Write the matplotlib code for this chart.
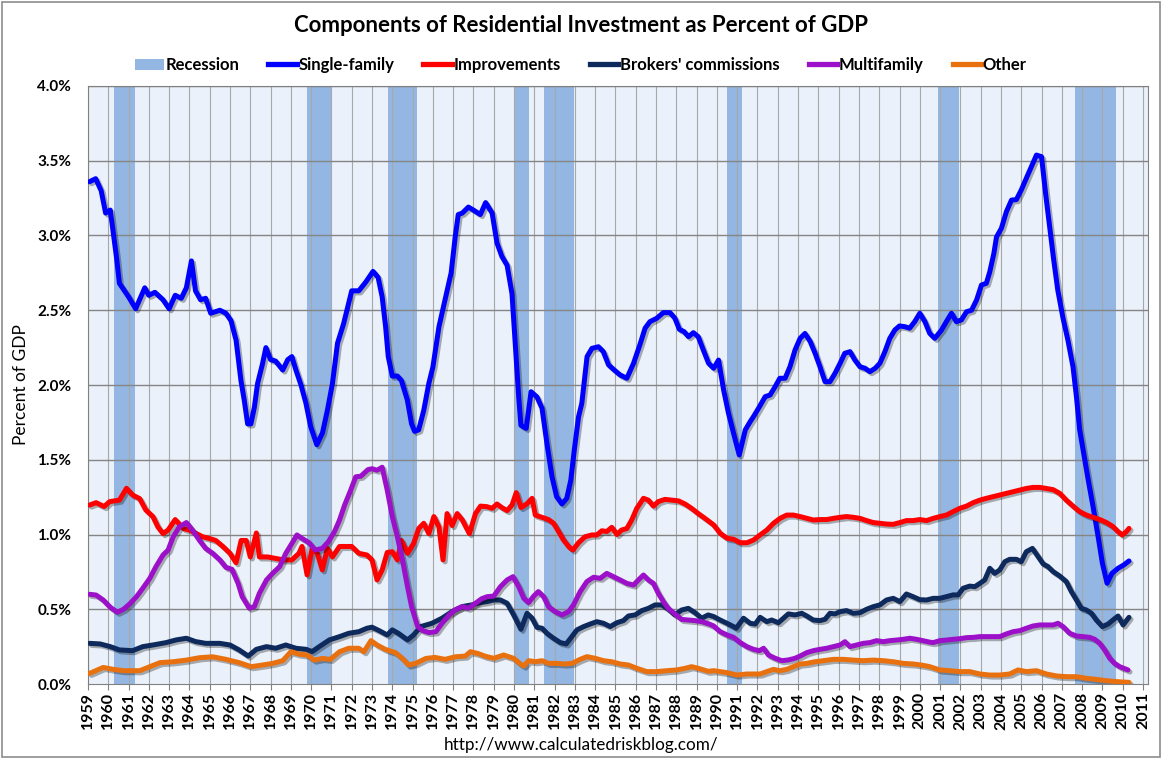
import numpy as np
import matplotlib
matplotlib.use("Agg")
import matplotlib.pyplot as plt
import matplotlib.patheffects as pe
from matplotlib.lines import Line2D
from matplotlib.patches import Patch, Rectangle

plt.rcParams['font.family'] = ['Lato', 'DejaVu Sans']

# recessions (start, end) in fractional years
rec_start = [1960.3, 1969.8, 1973.8, 1980.0, 1981.5, 1990.48, 2000.92, 2007.67]
rec_end = [1961.3, 1971.05, 1975.2, 1980.72, 1982.97, 1991.22, 2001.94, 2009.65]

# Single-family
sf_t = [1959.08, 1959.38, 1959.65, 1959.87, 1960.10, 1960.40, 1960.55, 1961.00, 1961.35, 1961.80,
        1962.00, 1962.30, 1962.70, 1963.00, 1963.30, 1963.60, 1963.85, 1964.10, 1964.30, 1964.55,
        1964.80, 1965.05, 1965.50, 1965.80, 1966.05, 1966.30, 1966.54, 1966.70, 1966.87, 1967.03,
        1967.20, 1967.36, 1967.60, 1967.77, 1968.00, 1968.25, 1968.60, 1968.85, 1969.05, 1969.25,
        1969.50, 1969.74, 1969.98, 1970.28, 1970.56, 1970.80, 1971.05, 1971.30, 1971.60, 1972.00,
        1972.35, 1972.70, 1973.05, 1973.30, 1973.50, 1973.67, 1973.80, 1974.00, 1974.25, 1974.45,
        1974.74, 1974.95, 1975.10, 1975.30, 1975.55, 1975.80, 1976.00, 1976.30, 1976.60, 1976.90,
        1977.10, 1977.25, 1977.45, 1977.75, 1978.00, 1978.34, 1978.60, 1978.92, 1979.16, 1979.40,
        1979.66, 1979.90, 1980.07, 1980.23, 1980.34, 1980.60, 1980.84, 1981.13, 1981.38, 1981.62,
        1981.87, 1982.10, 1982.36, 1982.60, 1982.80, 1982.97, 1983.18, 1983.34, 1983.60, 1983.84,
        1984.16, 1984.40, 1984.66, 1984.90, 1985.23, 1985.56, 1985.89, 1986.20, 1986.46, 1986.70,
        1987.03, 1987.36, 1987.69, 1987.93, 1988.15, 1988.38, 1988.60, 1988.84, 1989.08, 1989.33,
        1989.59, 1989.84, 1990.08, 1990.33, 1990.57, 1990.82, 1991.10, 1991.40, 1991.64, 1991.80,
        1992.05, 1992.38, 1992.62, 1992.87, 1993.10, 1993.36, 1993.60, 1993.85, 1994.10, 1994.34,
        1994.60, 1994.84, 1995.08, 1995.33, 1995.57, 1995.82, 1996.07, 1996.30, 1996.56, 1996.80,
        1997.05, 1997.30, 1997.54, 1997.80, 1998.03, 1998.28, 1998.52, 1998.77, 1999.00, 1999.26,
        1999.50, 1999.75, 2000.00, 2000.25, 2000.49, 2000.74, 2001.07, 2001.31, 2001.56, 2001.80,
        2002.05, 2002.30, 2002.55, 2002.80, 2003.04, 2003.28, 2003.45, 2003.65, 2003.78, 2004.02,
        2004.27, 2004.52, 2004.76, 2005.00, 2005.25, 2005.50, 2005.75, 2006.00, 2006.20, 2006.40,
        2006.60, 2006.80, 2007.06, 2007.30, 2007.55, 2007.72, 2007.88, 2008.05, 2008.30, 2008.54,
        2008.79, 2009.00, 2009.23, 2009.47, 2009.77, 2010.05, 2010.31]
sf_v = [3.36, 3.38, 3.30, 3.15, 3.17, 2.86, 2.68, 2.59, 2.51, 2.65,
        2.60, 2.62, 2.57, 2.51, 2.60, 2.58, 2.65, 2.83, 2.63, 2.57,
        2.58, 2.48, 2.50, 2.48, 2.43, 2.30, 2.03, 1.90, 1.74, 1.74,
        1.85, 2.01, 2.14, 2.25, 2.17, 2.16, 2.10, 2.17, 2.19, 2.10,
        2.00, 1.88, 1.72, 1.60, 1.68, 1.83, 2.01, 2.28, 2.41, 2.63,
        2.63, 2.69, 2.76, 2.72, 2.59, 2.39, 2.19, 2.06, 2.06, 2.03,
        1.90, 1.74, 1.69, 1.70, 1.83, 2.01, 2.12, 2.39, 2.57, 2.75,
        2.99, 3.14, 3.15, 3.19, 3.17, 3.14, 3.22, 3.15, 2.95, 2.86,
        2.80, 2.61, 2.26, 1.92, 1.73, 1.71, 1.955, 1.92, 1.844, 1.61,
        1.387, 1.253, 1.204, 1.242, 1.365, 1.565, 1.788, 1.877, 2.19, 2.245,
        2.256, 2.223, 2.134, 2.105, 2.067, 2.045, 2.145, 2.268, 2.38, 2.424,
        2.446, 2.484, 2.484, 2.446, 2.372, 2.357, 2.323, 2.35, 2.323, 2.234,
        2.145, 2.112, 2.167, 1.967, 1.811, 1.677, 1.532, 1.70, 1.755, 1.788,
        1.844, 1.922, 1.933, 1.989, 2.045, 2.045, 2.122, 2.234, 2.312, 2.345,
        2.29, 2.212, 2.122, 2.022, 2.022, 2.078, 2.145, 2.212, 2.223, 2.167,
        2.122, 2.112, 2.089, 2.112, 2.145, 2.223, 2.312, 2.368, 2.395, 2.39,
        2.38, 2.424, 2.48, 2.424, 2.345, 2.312, 2.368, 2.424, 2.48, 2.424,
        2.435, 2.49, 2.50, 2.569, 2.669, 2.68, 2.758, 2.88, 2.99, 3.048,
        3.16, 3.237, 3.24, 3.304, 3.383, 3.46, 3.538, 3.527, 3.28, 3.06,
        2.836, 2.635, 2.446, 2.30, 2.122, 1.922, 1.70, 1.565, 1.365, 1.186,
        0.985, 0.807, 0.674, 0.74, 0.774, 0.796, 0.823]

# Improvements
imp_t = [1959.08, 1959.40, 1959.80, 1960.07, 1960.55, 1960.90, 1961.20, 1961.55, 1961.85, 1962.20,
         1962.45, 1962.70, 1962.95, 1963.30, 1963.70, 1964.00, 1964.35, 1964.65, 1965.00, 1965.30,
         1965.65, 1966.00, 1966.30, 1966.55, 1966.80, 1967.00, 1967.30, 1967.45, 1967.85, 1968.25,
         1968.65, 1969.05, 1969.40, 1969.55, 1969.80, 1970.05, 1970.30, 1970.55, 1970.80, 1971.05,
         1971.40, 1971.70, 1972.00, 1972.35, 1972.75, 1973.00, 1973.25, 1973.50, 1973.75, 1974.00,
         1974.25, 1974.45, 1974.75, 1975.05, 1975.30, 1975.55, 1975.80, 1976.05, 1976.30, 1976.50,
         1976.70, 1976.95, 1977.20, 1977.45, 1977.80, 1978.10, 1978.35, 1978.67, 1978.92, 1979.16,
         1979.40, 1979.66, 1979.90, 1980.11, 1980.34, 1980.64, 1980.89, 1981.05, 1981.38, 1981.70,
         1981.95, 1982.20, 1982.44, 1982.70, 1982.90, 1983.18, 1983.50, 1983.84, 1984.08, 1984.33,
         1984.57, 1984.82, 1985.07, 1985.30, 1985.56, 1985.80, 1986.05, 1986.38, 1986.62, 1986.87,
         1987.11, 1987.44, 1987.77, 1988.10, 1988.43, 1988.75, 1989.08, 1989.41, 1989.84, 1990.16,
         1990.50, 1990.82, 1991.15, 1991.48, 1991.80, 1992.13, 1992.46, 1992.79, 1993.11, 1993.44,
         1993.77, 1994.10, 1994.43, 1994.75, 1995.08, 1995.41, 1995.74, 1996.07, 1996.39, 1996.72,
         1997.05, 1997.38, 1997.70, 1998.03, 1998.36, 1998.69, 1999.02, 1999.34, 1999.67, 2000.00,
         2000.33, 2000.66, 2000.99, 2001.31, 2001.64, 2001.97, 2002.30, 2002.63, 2002.96, 2003.28,
         2003.61, 2003.94, 2004.27, 2004.60, 2004.93, 2005.25, 2005.58, 2005.91, 2006.24, 2006.57,
         2006.90, 2007.22, 2007.55, 2007.88, 2008.21, 2008.54, 2008.87, 2009.20, 2009.52, 2009.77,
         2009.98, 2010.18, 2010.31]
imp_v = [1.197, 1.213, 1.187, 1.22, 1.23, 1.309, 1.264, 1.24, 1.164, 1.12,
         1.05, 1.006, 1.03, 1.10, 1.04, 1.03, 1.006, 0.985, 0.973, 0.96,
         0.92, 0.874, 0.811, 0.96, 0.96, 0.85, 1.01, 0.85, 0.85, 0.84,
         0.83, 0.83, 0.874, 0.92, 0.73, 0.907, 0.874, 0.763, 0.907, 0.85,
         0.92, 0.92, 0.92, 0.874, 0.863, 0.83, 0.696, 0.763, 0.88, 0.885,
         0.83, 0.96, 0.874, 0.94, 1.04, 1.075, 1.006, 1.12, 1.05, 0.83,
         1.14, 1.06, 1.14, 1.097, 1.006, 1.14, 1.19, 1.186, 1.175, 1.204,
         1.18, 1.16, 1.197, 1.28, 1.18, 1.206, 1.242, 1.13, 1.115, 1.10,
         1.075, 1.019, 0.963, 0.918, 0.896, 0.945, 0.985, 0.997, 0.997, 1.025,
         1.02, 1.048, 1.0, 1.03, 1.04, 1.097, 1.175, 1.242, 1.23, 1.19,
         1.22, 1.235, 1.23, 1.225, 1.204, 1.175, 1.14, 1.108, 1.064, 1.008,
         0.975, 0.968, 0.945, 0.945, 0.963, 0.997, 1.03, 1.075, 1.108, 1.13,
         1.13, 1.12, 1.108, 1.097, 1.10, 1.10, 1.108, 1.115, 1.12, 1.115,
         1.108, 1.093, 1.08, 1.075, 1.07, 1.068, 1.08, 1.093, 1.093, 1.10,
         1.093, 1.108, 1.12, 1.13, 1.153, 1.175, 1.19, 1.213, 1.23, 1.242,
         1.253, 1.264, 1.275, 1.286, 1.297, 1.308, 1.315, 1.315, 1.308, 1.30,
         1.275, 1.23, 1.19, 1.153, 1.13, 1.115, 1.10, 1.08, 1.053, 1.019,
         0.997, 1.019, 1.041]

# Brokers' commissions
br_t = [1959.08, 1959.60, 1960.10, 1960.55, 1961.20, 1961.70, 1962.20, 1962.85, 1963.35, 1963.85,
        1964.30, 1964.80, 1965.50, 1966.00, 1966.45, 1966.90, 1967.30, 1967.80, 1968.25, 1968.75,
        1969.25, 1969.75, 1970.05, 1970.40, 1970.90, 1971.40, 1971.85, 1972.35, 1972.75, 1973.00,
        1973.35, 1973.75, 1974.00, 1974.30, 1974.75, 1975.05, 1975.40, 1975.95, 1976.45, 1976.95,
        1977.45, 1977.95, 1978.34, 1978.67, 1979.00, 1979.33, 1979.66, 1979.98, 1980.34, 1980.64,
        1980.89, 1981.13, 1981.38, 1981.62, 1981.95, 1982.28, 1982.57, 1982.85, 1983.10, 1983.43,
        1983.75, 1984.08, 1984.41, 1984.74, 1985.07, 1985.39, 1985.64, 1985.97, 1986.30, 1986.62,
        1986.95, 1987.28, 1987.61, 1987.93, 1988.26, 1988.59, 1988.92, 1989.25, 1989.57, 1989.84,
        1990.16, 1990.50, 1990.82, 1990.95, 1991.31, 1991.64, 1991.89, 1992.13, 1992.46, 1992.70,
        1993.03, 1993.28, 1993.52, 1993.85, 1994.18, 1994.43, 1994.75, 1995.08, 1995.33, 1995.57,
        1995.82, 1996.07, 1996.39, 1996.72, 1997.05, 1997.38, 1997.70, 1998.03, 1998.36, 1998.69,
        1999.02, 1999.34, 1999.67, 2000.00, 2000.33, 2000.66, 2000.99, 2001.31, 2001.64, 2001.89,
        2002.13, 2002.46, 2002.71, 2002.96, 2003.20, 2003.45, 2003.69, 2003.94, 2004.19, 2004.43,
        2004.76, 2005.00, 2005.25, 2005.55, 2005.83, 2006.08, 2006.32, 2006.57, 2006.90, 2007.22,
        2007.47, 2007.72, 2007.96, 2008.21, 2008.46, 2008.70, 2009.00, 2009.28, 2009.52, 2009.77,
        2010.02, 2010.31]
br_v = [0.272, 0.268, 0.25, 0.228, 0.223, 0.25, 0.261, 0.277, 0.295, 0.306,
        0.284, 0.272, 0.272, 0.261, 0.228, 0.187, 0.232, 0.25, 0.239, 0.261,
        0.239, 0.232, 0.217, 0.25, 0.295, 0.317, 0.339, 0.35, 0.373, 0.38,
        0.357, 0.328, 0.362, 0.339, 0.295, 0.328, 0.384, 0.406, 0.44, 0.485,
        0.518, 0.53, 0.545, 0.551, 0.562, 0.562, 0.54, 0.462, 0.366, 0.473,
        0.44, 0.379, 0.373, 0.339, 0.306, 0.277, 0.268, 0.317, 0.362, 0.384,
        0.401, 0.417, 0.406, 0.384, 0.41, 0.424, 0.455, 0.462, 0.491, 0.506,
        0.529, 0.529, 0.50, 0.462, 0.495, 0.506, 0.477, 0.44, 0.462, 0.451,
        0.428, 0.406, 0.384, 0.373, 0.44, 0.406, 0.401, 0.446, 0.417, 0.428,
        0.41, 0.44, 0.469, 0.462, 0.473, 0.455, 0.428, 0.424, 0.433, 0.473,
        0.469, 0.484, 0.491, 0.473, 0.477, 0.50, 0.517, 0.529, 0.562, 0.573,
        0.551, 0.602, 0.584, 0.564, 0.562, 0.573, 0.573, 0.584, 0.596, 0.596,
        0.64, 0.655, 0.651, 0.673, 0.696, 0.774, 0.74, 0.763, 0.818, 0.834,
        0.834, 0.818, 0.885, 0.907, 0.852, 0.803, 0.785, 0.752, 0.722, 0.685,
        0.618, 0.562, 0.506, 0.495, 0.473, 0.428, 0.384, 0.401, 0.428, 0.455,
        0.395, 0.446]

# Multifamily
mf_t = [1959.08, 1959.40, 1959.75, 1960.10, 1960.45, 1960.75, 1961.05, 1961.40, 1961.70, 1962.05,
        1962.35, 1962.70, 1962.95, 1963.20, 1963.50, 1963.85, 1964.15, 1964.50, 1964.80, 1965.15,
        1965.50, 1965.80, 1966.10, 1966.40, 1966.60, 1966.95, 1967.20, 1967.45, 1967.80, 1968.10,
        1968.45, 1968.75, 1969.05, 1969.30, 1969.55, 1969.90, 1970.20, 1970.55, 1970.85, 1971.15,
        1971.40, 1971.65, 1971.95, 1972.20, 1972.45, 1972.80, 1973.00, 1973.25, 1973.50, 1973.75,
        1974.00, 1974.25, 1974.50, 1974.75, 1974.95, 1975.25, 1975.50, 1975.80, 1976.15, 1976.45,
        1976.80, 1977.10, 1977.45, 1977.75, 1978.10, 1978.40, 1978.67, 1979.00, 1979.33, 1979.66,
        1979.95, 1980.23, 1980.48, 1980.72, 1980.97, 1981.20, 1981.46, 1981.70, 1982.03, 1982.36,
        1982.69, 1982.93, 1983.26, 1983.59, 1983.92, 1984.25, 1984.57, 1984.90, 1985.23, 1985.56,
        1985.89, 1986.13, 1986.38, 1986.62, 1986.87, 1987.11, 1987.36, 1987.60, 1987.93, 1988.26,
        1988.59, 1988.92, 1989.25, 1989.62, 1989.84, 1990.16, 1990.50, 1990.82, 1991.15, 1991.48,
        1991.80, 1992.10, 1992.30, 1992.54, 1992.87, 1993.20, 1993.52, 1993.85, 1994.10, 1994.43,
        1994.75, 1995.08, 1995.41, 1995.74, 1996.07, 1996.31, 1996.56, 1996.89, 1997.21, 1997.54,
        1997.87, 1998.20, 1998.52, 1998.85, 1999.18, 1999.51, 1999.84, 2000.16, 2000.49, 2000.66,
        2000.99, 2001.31, 2001.64, 2001.97, 2002.30, 2002.63, 2002.96, 2003.28, 2003.61, 2003.94,
        2004.27, 2004.60, 2004.93, 2005.25, 2005.58, 2005.91, 2006.24, 2006.57, 2006.81, 2007.06,
        2007.39, 2007.72, 2008.05, 2008.37, 2008.62, 2008.87, 2009.11, 2009.36, 2009.60, 2009.85,
        2010.05, 2010.26]
mf_v = [0.60, 0.595, 0.562, 0.513, 0.48, 0.50, 0.535, 0.585, 0.64, 0.707,
        0.785, 0.863, 0.896, 0.985, 1.05, 1.08, 1.03, 0.96, 0.907, 0.874,
        0.83, 0.78, 0.767, 0.673, 0.585, 0.507, 0.518, 0.607, 0.696, 0.74,
        0.785, 0.874, 0.94, 0.997, 0.974, 0.945, 0.896, 0.907, 0.952, 1.019,
        1.097, 1.197, 1.297, 1.386, 1.39, 1.434, 1.44, 1.43, 1.45, 1.297,
        1.12, 0.985, 0.83, 0.651, 0.518, 0.384, 0.357, 0.344, 0.35, 0.406,
        0.462, 0.496, 0.518, 0.507, 0.54, 0.57, 0.584, 0.588, 0.651, 0.696,
        0.718, 0.651, 0.573, 0.544, 0.588, 0.618, 0.584, 0.517, 0.484, 0.462,
        0.484, 0.529, 0.618, 0.685, 0.714, 0.707, 0.74, 0.718, 0.696, 0.673,
        0.662, 0.696, 0.729, 0.696, 0.673, 0.607, 0.551, 0.506, 0.469, 0.432,
        0.428, 0.424, 0.417, 0.401, 0.388, 0.35, 0.328, 0.312, 0.277, 0.25,
        0.232, 0.223, 0.239, 0.194, 0.172, 0.156, 0.161, 0.172, 0.187, 0.21,
        0.223, 0.232, 0.239, 0.25, 0.261, 0.283, 0.25, 0.261, 0.272, 0.277,
        0.29, 0.283, 0.29, 0.294, 0.299, 0.306, 0.299, 0.29, 0.28, 0.277,
        0.29, 0.294, 0.299, 0.303, 0.31, 0.312, 0.317, 0.317, 0.317, 0.317,
        0.335, 0.35, 0.357, 0.373, 0.388, 0.395, 0.395, 0.395, 0.406, 0.384,
        0.339, 0.321, 0.317, 0.312, 0.299, 0.272, 0.228, 0.172, 0.138, 0.116,
        0.105, 0.094]

# Other
ot_t = [1959.08, 1959.75, 1960.25, 1960.75, 1961.55, 1962.05, 1962.55, 1963.20, 1963.85, 1964.50,
        1965.15, 1965.80, 1966.45, 1967.05, 1967.60, 1968.10, 1968.60, 1969.00, 1969.40, 1969.80,
        1970.15, 1970.55, 1970.95, 1971.40, 1971.85, 1972.35, 1972.60, 1972.95, 1973.25, 1973.65,
        1974.15, 1974.50, 1974.80, 1975.15, 1975.65, 1976.10, 1976.60, 1977.10, 1977.60, 1977.85,
        1978.20, 1978.60, 1979.00, 1979.49, 1979.98, 1980.31, 1980.48, 1980.72, 1981.05, 1981.38,
        1981.70, 1982.11, 1982.52, 1982.85, 1983.26, 1983.59, 1984.00, 1984.41, 1984.82, 1985.23,
        1985.64, 1986.05, 1986.54, 1987.03, 1987.52, 1988.02, 1988.43, 1988.75, 1989.08, 1989.57,
        1989.84, 1990.50, 1990.98, 1991.48, 1992.13, 1992.46, 1992.79, 1993.11, 1993.44, 1993.77,
        1994.10, 1994.43, 1994.84, 1995.25, 1995.74, 1996.23, 1996.72, 1997.21, 1997.70, 1998.20,
        1998.69, 1999.18, 1999.67, 2000.16, 2000.49, 2000.99, 2001.48, 2001.97, 2002.46, 2002.96,
        2003.45, 2003.94, 2004.43, 2004.84, 2005.25, 2005.75, 2006.24, 2006.73, 2007.22, 2007.72,
        2008.21, 2008.70, 2009.20, 2009.69, 2010.31]
ot_v = [0.071, 0.111, 0.098, 0.089, 0.089, 0.116, 0.143, 0.149, 0.16, 0.176,
        0.182, 0.165, 0.143, 0.116, 0.127, 0.138, 0.156, 0.216, 0.20, 0.194,
        0.16, 0.171, 0.165, 0.216, 0.239, 0.239, 0.216, 0.29, 0.261, 0.232,
        0.21, 0.171, 0.127, 0.138, 0.171, 0.178, 0.165, 0.182, 0.187, 0.216,
        0.205, 0.185, 0.172, 0.194, 0.172, 0.134, 0.12, 0.156, 0.149, 0.156,
        0.138, 0.138, 0.134, 0.138, 0.165, 0.183, 0.172, 0.156, 0.149, 0.134,
        0.127, 0.105, 0.083, 0.083, 0.089, 0.094, 0.105, 0.116, 0.105, 0.085,
        0.089, 0.076, 0.06, 0.067, 0.067, 0.083, 0.098, 0.089, 0.098, 0.116,
        0.134, 0.138, 0.149, 0.156, 0.165, 0.165, 0.16, 0.156, 0.16, 0.156,
        0.149, 0.138, 0.134, 0.125, 0.116, 0.094, 0.089, 0.083, 0.083, 0.067,
        0.06, 0.06, 0.067, 0.094, 0.083, 0.089, 0.067, 0.054, 0.049, 0.049,
        0.038, 0.031, 0.022, 0.016, 0.011]

series = [
    ("Single-family", sf_t, sf_v, "#0000FF"),
    ("Improvements", imp_t, imp_v, "#FF0000"),
    ("Brokers' commissions", br_t, br_v, "#0E2A5C"),
    ("Multifamily", mf_t, mf_v, "#9B10C8"),
    ("Other", ot_t, ot_v, "#E8700F"),
]
rec_color = "#93B6E2"

fig = plt.figure(figsize=(11.62, 7.59), dpi=100)
ax = fig.add_axes([0.0757, 0.0988, 0.9123, 0.7879])
ax.set_facecolor("#EAF1FA")

# recession bars
for s, e in zip(rec_start, rec_end):
    ax.axvspan(s, e, color=rec_color, lw=0, zorder=1)

years = np.arange(1959, 2012)
ax.set_xticks(years)
ax.set_xticklabels([str(y) for y in years], rotation=90, fontsize=11.5, fontweight='bold')
ax.set_yticks(np.arange(0, 4.01, 0.5))
ax.set_yticklabels(["%.1f%%" % v for v in np.arange(0, 4.01, 0.5)], fontsize=11, fontweight='bold')
ax.set_xlim(1959, 2011.25)
ax.set_ylim(0, 4.0)
for y in years:
    ax.axvline(y, color="#A8A8A8", lw=0.8, zorder=2)
for v in np.arange(0.5, 4.01, 0.5):
    ax.axhline(v, color="#858585", lw=1.0, zorder=2)
ax.tick_params(axis='x', length=4, color="#808080", pad=2)
ax.tick_params(axis='y', length=0, pad=12)
for sp in ax.spines.values():
    sp.set_color("#808080")

shadow = [pe.SimpleLineShadow(offset=(1.5, -1.5), shadow_color='k', alpha=0.3), pe.Normal()]
for name, t, v, c in series:
    ax.plot(t, v, color=c, lw=3.6, solid_joinstyle='round', solid_capstyle='round',
            path_effects=shadow, zorder=5)

ax.set_ylabel("Percent of GDP", fontsize=12.5, labelpad=6)

fig.text(0.5, 0.967, "Components of Residential Investment as Percent of GDP",
         ha='center', va='center', fontsize=16, fontweight='bold')
fig.text(0.5, 0.018, "http://www.calculatedriskblog.com/", ha='center', va='center', fontsize=12.3)

handles = [Patch(facecolor=rec_color, edgecolor='none', label="Recession")]
for name, t, v, c in series:
    handles.append(Line2D([0], [0], color=c, lw=3.8, label=name))
leg = fig.legend(handles=handles, loc='center', bbox_to_anchor=(0.5, 0.914), ncol=6,
                 frameon=False, handlelength=1.7, handletextpad=0.1, columnspacing=1.75,
                 prop={'weight': 'bold', 'size': 12})

# outer frame of the picture
fig.patches.append(Rectangle((0.002, 0.003), 0.996, 0.994, transform=fig.transFigure,
                             fill=False, edgecolor="#8C8C8C", lw=1.2))

fig.savefig("out.png", dpi=100)
